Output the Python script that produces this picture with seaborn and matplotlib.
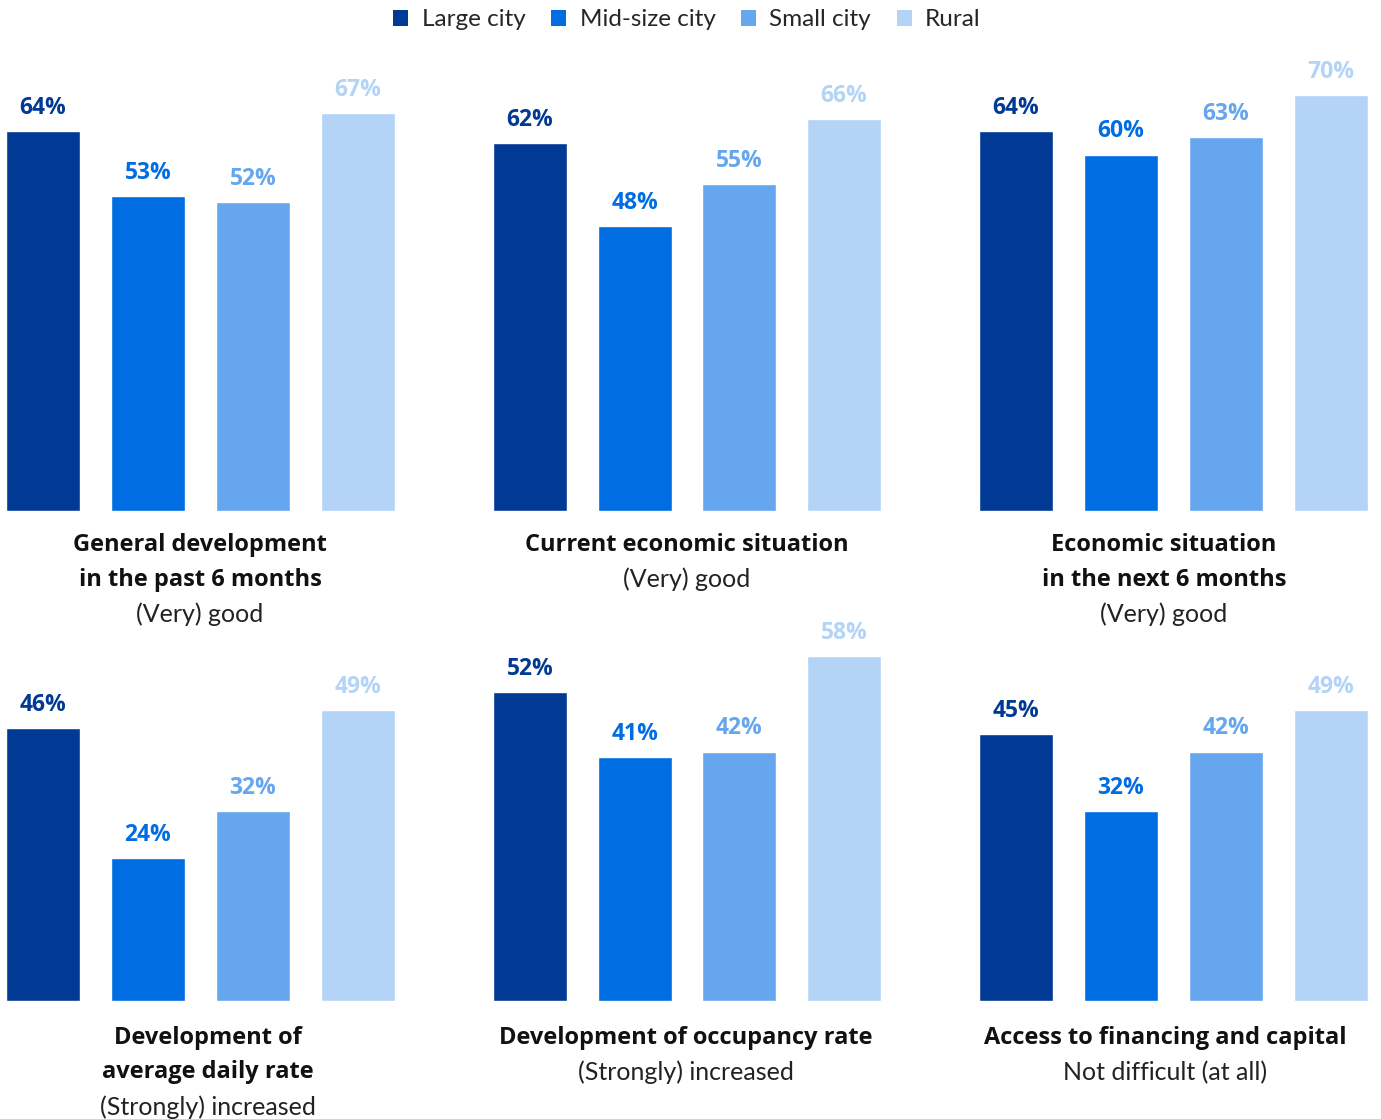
import matplotlib
matplotlib.use("Agg")
import matplotlib.pyplot as plt
import seaborn as sns
import pandas as pd
from matplotlib.patches import Patch

# ---- data ----
areas = ["Large city", "Mid-size city", "Small city", "Rural"]
colors = ["#003A94", "#006DE2", "#66A6EE", "#B3D3F7"]

titles = [
    "General development\nin the past 6 months",
    "Current economic situation",
    "Economic situation\nin the next 6 months",
    "Development of\naverage daily rate",
    "Development of occupancy rate",
    "Access to financing and capital",
]
subtitles = [
    "(Very) good",
    "(Very) good",
    "(Very) good",
    "(Strongly) increased",
    "(Strongly) increased",
    "Not difficult (at all)",
]
general_dev = [64, 53, 52, 67]
current_econ = [62, 48, 55, 66]
next_econ = [64, 60, 63, 70]
daily_rate = [46, 24, 32, 49]
occupancy = [52, 41, 42, 58]
financing = [45, 32, 42, 49]
panel_values = [general_dev, current_econ, next_econ, daily_rate, occupancy, financing]

sns.set_theme(style="white")
plt.rcParams["font.family"] = ["Open Sans", "DejaVu Sans"]

W, H = 1381, 1119
fig = plt.figure(figsize=(W / 100, H / 100), dpi=100)

px_per_pct = 5.94
ymax = 80
col_x = [(6, 395), (493, 881), (979, 1368)]
title_cx = [200, 687, 1164, 208, 686, 1165]
row_base = [511, 1001]
row_off = [34, 37]
bar_w = 74 / 105.0
line_h = 34.5

for i, (vals, title, sub) in enumerate(zip(panel_values, titles, subtitles)):
    r, c = divmod(i, 3)
    x0, x1 = col_x[c]
    base = row_base[r]
    h = ymax * px_per_pct
    ax = fig.add_axes([x0 / W, (H - base) / H, (x1 - x0) / W, h / H])
    df = pd.DataFrame({"area": areas, "value": vals})
    sns.barplot(data=df, x="area", y="value", hue="area", order=areas,
                hue_order=areas, palette=colors, width=bar_w, legend=False,
                saturation=1, ax=ax)
    half = bar_w / 2
    ax.set_xlim(-half, 3 + half)
    ax.set_ylim(0, ymax)
    ax.axis("off")
    for cont, col in zip(ax.containers, colors):
        ax.bar_label(cont, labels=[f"{v:.0f}%" for v in cont.datavalues],
                     padding=8, color=col, fontsize=16.5, fontweight="bold",
                     clip_on=False)
    cx = title_cx[i] / W
    y = base + row_off[r]
    for line in title.split("\n"):
        fig.text(cx, (H - y) / H, line, ha="center", va="center", fontsize=17,
                 fontweight="bold", color="#111111")
        y += line_h
    fig.text(cx, (H - y) / H, sub, ha="center", va="center", fontsize=18,
             fontweight="normal", color="#222222", family=["Lato", "DejaVu Sans"])

handles = [Patch(facecolor=col, edgecolor="none", label=a) for a, col in zip(areas, colors)]
fig.legend(handles=handles, loc="center", bbox_to_anchor=(687 / W, (H - 20) / H), ncol=4,
           frameon=False, handlelength=0.62, handleheight=0.62,
           handletextpad=0.55, columnspacing=1.05,
           prop={"family": ["Lato", "DejaVu Sans"], "weight": "normal", "size": 17.5})

fig.savefig("out.png", dpi=100)
